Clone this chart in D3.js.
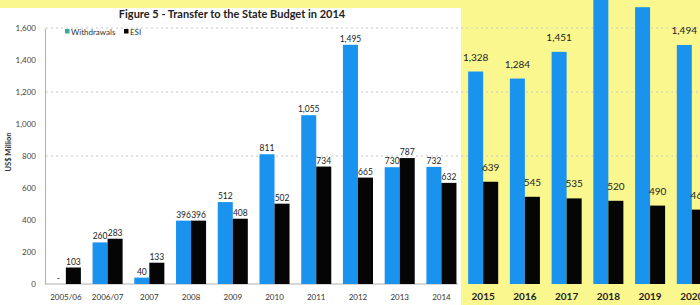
<!DOCTYPE html>
<html><head><meta charset="utf-8">
<script src="https://cdnjs.cloudflare.com/ajax/libs/d3/7.8.5/d3.min.js"></script>
<style>body{margin:0;padding:0;overflow:hidden;background:#fbf78f}svg{display:block}</style>
</head><body>
<svg id="c" width="700" height="305"></svg>
<script>
const categories = ["2005/06","2006/07","2007","2008","2009","2010","2011","2012","2013","2014","2015","2016","2017","2018","2019","2020"];
const withdrawals = [0,260,40,396,512,811,1055,1495,730,732,1328,1284,1451,1850,1730,1494];
const esi = [103,283,133,396,408,502,734,665,787,632,639,545,535,520,490,465];
const yTicks = [0,200,400,600,800,1000,1200,1400,1600];
const gridTicks = [800,1200,1600];
const seriesNames = ["Withdrawals","ESI"];
const leftCount = 10;

const svg = d3.select("#c");
const W = 700, H = 305;
const BLUE = "#1a93ef", BLACK = "#050505", YELLOW = "#fbf78f";
const FONT = "Lato, 'Open Sans', sans-serif";

const x = d3.scaleBand().domain(categories).range([45, 45 + 16*41.73]).paddingInner(0.28).paddingOuter(0.14);
const xs = d3.scaleBand().domain([0,1]).range([0, x.bandwidth()]);
const y = d3.scaleLinear().domain([0,1600]).range([284, 28]);

// backgrounds
svg.append("rect").attr("x",0).attr("y",0).attr("width",W).attr("height",H).attr("fill",YELLOW);
svg.append("rect").attr("x",0).attr("y",8).attr("width",461).attr("height",H-8).attr("fill","#ffffff");

// gridlines
svg.append("g").selectAll("line").data(gridTicks).join("line")
  .attr("x1",46).attr("x2",W).attr("y1",d=>y(d)).attr("y2",d=>y(d))
  .attr("stroke","#c8c8c8").attr("stroke-width",1).attr("stroke-dasharray","2,3");

// y axis
const yAxis = d3.axisLeft(y).tickValues(yTicks).tickSize(0).tickPadding(9).tickFormat(d3.format(","));
const ga = svg.append("g").attr("transform","translate(45,0)").call(yAxis);
ga.select(".domain").attr("stroke","#b0b0b0");
ga.selectAll("text").attr("font-family",FONT).attr("font-size","8px").attr("fill","#444");

// x axis line (left panel)
svg.append("line").attr("x1",45).attr("x2",458).attr("y1",y(0)).attr("y2",y(0)).attr("stroke","#b0b0b0");

// bars
const rows = categories.map((c,i)=>({c,i,v:[withdrawals[i],esi[i]]}));
const g = svg.append("g");
rows.forEach(r=>{
  r.v.forEach((v,k)=>{
    g.append("rect")
      .attr("x", x(r.c)+xs(k)).attr("width", xs.bandwidth())
      .attr("y", y(v)).attr("height", y(0)-y(v))
      .attr("fill", k===0?BLUE:BLACK);
  });
});

// value labels (labels falling above the picture are not drawn, as in the reference)
rows.forEach(r=>{
  const right = r.i >= leftCount;
  r.v.forEach((v,k)=>{
    const cx = x(r.c)+xs(k)+xs.bandwidth()/2;
    const ty = y(v) - (right?11:3);
    if (ty < 12) return;
    g.append("text")
      .attr("x", cx).attr("y", ty)
      .attr("text-anchor","middle")
      .attr("font-family",FONT)
      .attr("font-size", right?"10px":"8.5px")
      .attr("fill","#222")
      .text(v===0?"-":d3.format(",")(v));
  });
});

// x labels
rows.forEach(r=>{
  const right = r.i >= leftCount;
  svg.append("text")
    .attr("x", x(r.c)+x.bandwidth()/2).attr("y", 300)
    .attr("text-anchor","middle")
    .attr("font-family",FONT)
    .attr("font-size", right?"10px":"8px")
    .attr("font-weight", right?"bold":"normal")
    .attr("fill", right?"#222":"#333")
    .text(r.c);
});

// title
svg.append("text").attr("x",232).attr("y",18).attr("text-anchor","middle")
  .attr("font-family",FONT).attr("font-size","11px").attr("font-weight","bold").attr("fill","#222")
  .text("Figure 5 - Transfer to the State Budget in 2014");

// y title
svg.append("text").attr("transform","translate(11,152) rotate(-90)").attr("text-anchor","middle")
  .attr("font-family",FONT).attr("font-size","7.5px").attr("font-weight","bold").attr("fill","#333")
  .text("US$ Million");

// legend
const leg = svg.append("g");
const legX = [65,124];
seriesNames.forEach((n,k)=>{
  leg.append("rect").attr("x",legX[k]).attr("y",29).attr("width",4.5).attr("height",4.5)
    .attr("fill", k===0?"#3aa89a":BLACK);
  leg.append("text").attr("x",legX[k]+6).attr("y",34.5)
    .attr("font-family",FONT).attr("font-size","8px").attr("fill","#333").text(n);
});
</script>
</body></html>
